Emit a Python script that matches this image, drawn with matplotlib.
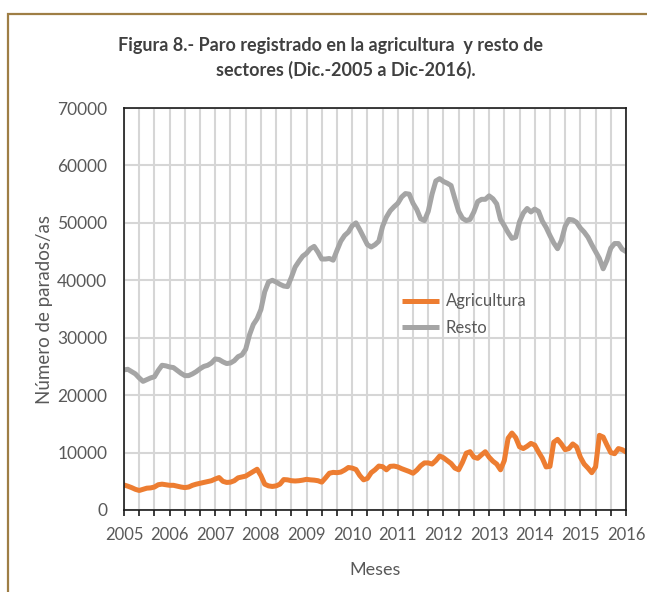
import matplotlib
matplotlib.use("Agg")
import matplotlib.pyplot as plt
from matplotlib.patches import Rectangle
from matplotlib.ticker import MultipleLocator

# paro registrado mensual, Dic-2005 .. Dic-2016 (133 meses)
resto = [
    24400, 24500, 24100, 23700, 23000, 22400, 22700, 23000, 23200, 24300,
    25200, 25100, 24900, 24800, 24300, 23800, 23400, 23400, 23700, 24100,
    24600, 25000, 25200, 25600, 26300, 26200, 25800, 25500, 25600, 26000,
    26700, 27000, 28000, 30500, 32300, 33300, 34900, 38000, 39700, 40000,
    39700, 39300, 39000, 38900, 40500, 42300, 43300, 44200, 44700, 45500,
    45900, 44900, 43700, 43700, 43800, 43500, 45200, 46800, 47800, 48400,
    49500, 50000, 48800, 47500, 46200, 45800, 46200, 46800, 49400, 51000,
    52100, 52800, 53400, 54500, 55100, 55000, 53400, 52300, 50700, 50400,
    52000, 55000, 57300, 57700, 57200, 56900, 56500, 54200, 52000, 50800,
    50400, 50600, 51900, 53700, 54100, 54100, 54700, 54200, 53300, 50600,
    49500, 48300, 47300, 47500, 50200, 51700, 52500, 51900, 52400, 52000,
    50300, 49200, 47800, 46500, 45500, 46900, 49400, 50600, 50500, 50100,
    49100, 48400, 47500, 46200, 45000, 43800, 42000, 43500, 45600, 46400,
    46400, 45400, 45000,
]
agricultura = [
    4350, 4150, 3900, 3600, 3400, 3600, 3800, 3850, 4000, 4400,
    4500, 4400, 4300, 4300, 4150, 4000, 3900, 4000, 4300, 4500,
    4650, 4800, 4950, 5100, 5400, 5650, 5000, 4800, 4850, 5100,
    5600, 5750, 5900, 6300, 6700, 7100, 6000, 4500, 4200, 4100,
    4200, 4500, 5300, 5250, 5100, 5050, 5100, 5200, 5340, 5250,
    5200, 5100, 4850, 5600, 6400, 6550, 6500, 6600, 6950, 7400,
    7300, 7050, 6000, 5250, 5500, 6500, 7000, 7650, 7550, 7000,
    7600, 7650, 7500, 7200, 6950, 6700, 6400, 6950, 7700, 8200,
    8200, 8000, 8600, 9400, 9100, 8600, 8100, 7300, 7000, 8300,
    9900, 10150, 9200, 9000, 9600, 10150, 9200, 8500, 8000, 7000,
    8600, 12500, 13400, 12600, 11000, 10700, 11100, 11600, 11300, 10100,
    9000, 7500, 7600, 11800, 12300, 11500, 10500, 10700, 11500, 11000,
    9200, 8000, 7300, 6500, 7500, 13000, 12700, 11300, 10000, 9800,
    10700, 10500, 10100,
]
year_labels = [str(y) for y in range(2005, 2017)]

plt.rcParams["font.family"] = ["Lato", "DejaVu Sans"]

fig = plt.figure(figsize=(6.47, 5.92), dpi=100)
ax = fig.add_axes([124 / 647, 1 - 510 / 592, 502 / 647, 402 / 592])

xs = list(range(len(resto)))
ax.plot(xs, agricultura, color="#ED7D31", lw=3.6, label="Agricultura", solid_capstyle="round")
ax.plot(xs, resto, color="#A5A5A5", lw=3.6, label="Resto", solid_capstyle="round")

ax.set_xlim(0, len(resto) - 1)
ax.set_ylim(0, 70000)
ax.set_xticks(range(0, len(resto), 12))
ax.set_xticklabels(year_labels)
ax.xaxis.set_minor_locator(MultipleLocator(4))
ax.yaxis.set_major_locator(MultipleLocator(10000))

ax.grid(True, which="both", axis="x", color="#D6D6D6", lw=1.5)
ax.grid(True, which="major", axis="y", color="#D6D6D6", lw=1.5)
ax.set_axisbelow(True)
for s in ax.spines.values():
    s.set_color("#1a1a1a")
    s.set_linewidth(1.2)

ax.tick_params(axis="x", which="both", direction="out", length=4, width=1.2,
               color="#1a1a1a", labelsize=12, labelcolor="#595959", pad=8)
ax.tick_params(axis="y", length=0, labelsize=12.5, labelcolor="#595959", pad=12)

ax.set_xlabel("Meses", fontsize=13, color="#595959", labelpad=14)
ax.set_ylabel("Número de parados/as", fontsize=13.5, color="#595959", labelpad=3)

leg = ax.legend(loc="upper left", bbox_to_anchor=((394 - 124) / 502, (510 - 285) / 402),
                frameon=False, fontsize=12, handlelength=2.2, handletextpad=0.4,
                labelspacing=0.65, borderpad=0, labelcolor="#595959")
for h in leg.get_lines():
    h.set_solid_capstyle("butt")

fig.text(331 / 647, 1 - 46 / 592, "Figura 8.- Paro registrado en la agricultura  y resto de",
         ha="center", va="center", fontsize=13, fontweight="bold", color="#404040")
fig.text(346 / 647, 1 - 70 / 592, "sectores (Dic.-2005 a Dic-2016).",
         ha="center", va="center", fontsize=13, fontweight="bold", color="#404040")

# marco exterior
fig.add_artist(Rectangle((8 / 647, -0.1), 1.2, 1.1 - 14 / 592, transform=fig.transFigure,
                         fill=False, edgecolor="#9E7E45", lw=1.6, clip_on=False))

fig.savefig("out.png", dpi=100)
